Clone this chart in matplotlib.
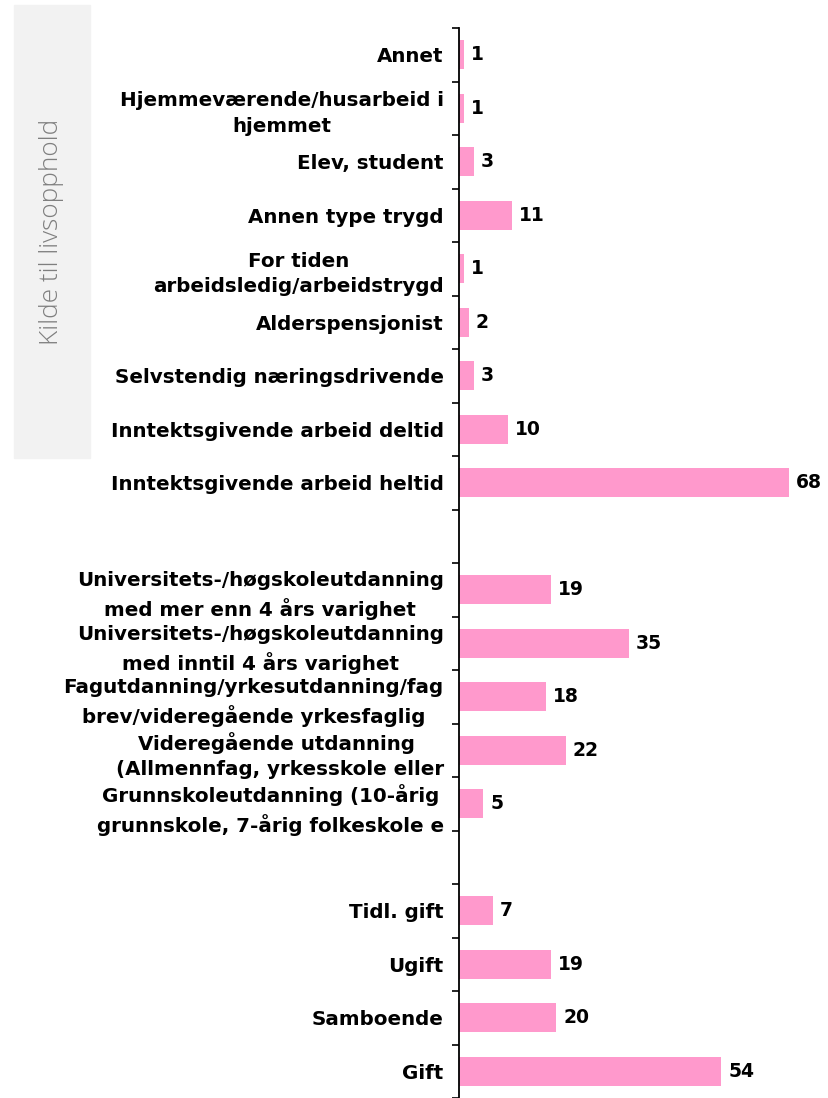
import matplotlib
matplotlib.use("Agg")
import matplotlib.pyplot as plt
from matplotlib.patches import Rectangle

# Data (top to bottom); None marks an empty separator slot
categories = [
    "Annet",
    "Hjemmeværende/husarbeid i\nhjemmet",
    "Elev, student",
    "Annen type trygd",
    "For tiden\narbeidsledig/arbeidstrygd",
    "Alderspensjonist",
    "Selvstendig næringsdrivende",
    "Inntektsgivende arbeid deltid",
    "Inntektsgivende arbeid heltid",
    None,
    "Universitets-/høgskoleutdanning\nmed mer enn 4 års varighet",
    "Universitets-/høgskoleutdanning\nmed inntil 4 års varighet",
    "Fagutdanning/yrkesutdanning/fag\nbrev/videregående yrkesfaglig",
    "Videregående utdanning \n(Allmennfag, yrkesskole eller",
    "Grunnskoleutdanning (10-årig\ngrunnskole, 7-årig folkeskole e",
    None,
    "Tidl. gift",
    "Ugift",
    "Samboende",
    "Gift",
]
values = [1, 1, 3, 11, 1, 2, 3, 10, 68, None,
          19, 35, 18, 22, 5, None,
          7, 19, 20, 54]
side_title = "Kilde til livsopphold"

W, H = 829, 1098
fig = plt.figure(figsize=(W / 100, H / 100), dpi=100)
ax = fig.add_axes([459 / W, 0, 1 - 459 / W, 1 - 28 / H])

label_font = "DejaVu Sans"
pos = [i for i, v in enumerate(values) if v is not None]
vals = [values[i] for i in pos]
labs = [categories[i] for i in pos]

bars = ax.barh(pos, vals, height=0.54, color="#ff99cc", zorder=2)
for p, v in zip(pos, vals):
    ax.annotate(str(v), xy=(v, p), xytext=(5, 0), textcoords="offset points",
                va="center", ha="left", fontsize=13.5, fontweight="bold",
                family=label_font, color="black")

n = len(values)
ax.set_ylim(n - 0.5, -0.5)
ax.set_xlim(0, 76.2)
ax.set_yticks(pos)
ax.set_yticklabels(labs, fontsize=14.3, fontweight="bold", family=label_font,
                   multialignment="center", linespacing=1.45)
ax.set_yticks([i - 0.5 for i in range(n + 1)], minor=True)
ax.tick_params(axis="y", which="major", length=0, pad=11)
ax.tick_params(axis="y", which="minor", length=5, width=1.2, color="black")
ax.set_xticks([])
for s in ["top", "right", "bottom"]:
    ax.spines[s].set_visible(False)
ax.spines["left"].set_linewidth(1.3)
ax.spines["left"].set_color("black")

fig.add_artist(Rectangle((14 / W, 1 - 458 / H), 76 / W, 453 / H,
                         transform=fig.transFigure, color="#f2f2f2", zorder=0))
fig.text(52 / W, 1 - 232 / H, side_title, rotation=90, ha="center", va="center",
         fontsize=18.8, color="#7f7f7f", family="Open Sans", fontweight="light")

fig.savefig("out.png", dpi=100)
